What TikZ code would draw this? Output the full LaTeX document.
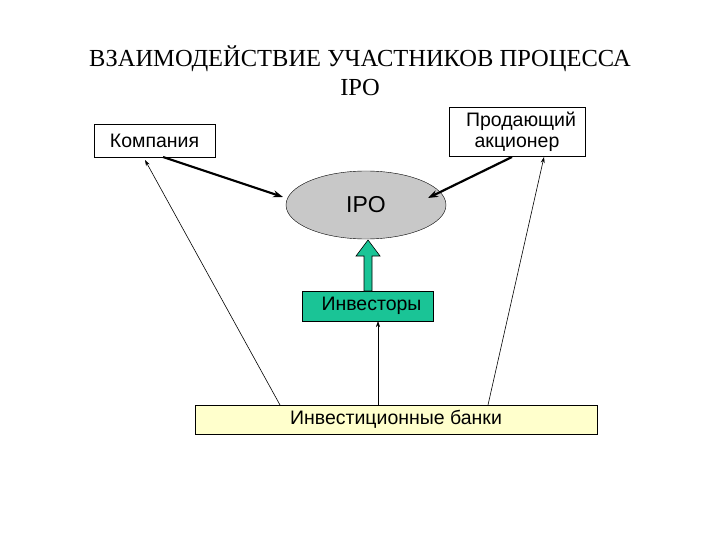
\documentclass[tikz,border=0pt]{standalone}
\usepackage{fontspec}
\setmainfont{Liberation Serif}
\newfontfamily\arialf{Liberation Sans}
\usetikzlibrary{arrows.meta,shapes.geometric}
\definecolor{grn}{RGB}{26,196,150}
\definecolor{ylw}{RGB}{255,255,204}
\definecolor{gry}{RGB}{200,200,200}
\begin{document}
\begin{tikzpicture}[x=1pt,y=-1pt,
  bx/.style={draw,thick,inner sep=0pt,font=\arialf\fontsize{19.5}{21}\selectfont},
  thinar/.style={-{Stealth[length=6pt,width=4pt]},line width=0.6pt},
  thickar/.style={-{Stealth[length=10pt,width=7pt]},line width=2.2pt}]
\useasboundingbox[fill=white] (0,0) rectangle (720,540);
\node[font=\fontsize{24.5}{29}\selectfont,align=center] (title) at (360,71) {ВЗАИМОДЕЙСТВИЕ УЧАСТНИКОВ ПРОЦЕССА\\IPO};
\node[bx,minimum width=121pt,minimum height=33pt] (komp) at (154.5,140.5) {Компания};
\node[bx,minimum width=136pt,minimum height=49pt,align=center,font=\arialf\fontsize{19.5}{21}\selectfont] (prod) at (517,131.5) {\hspace*{8pt}Продающий\\акционер};
\node[draw,fill=gry,ellipse,minimum width=160pt,minimum height=68pt,inner sep=0pt,font=\arialf\fontsize{23}{24}\selectfont] (ipo) at (366,205) {IPO};
\node[bx,fill=grn,minimum width=131pt,minimum height=30pt] (inv) at (367.5,306) {\hspace*{8pt}Инвесторы};
\node[bx,fill=ylw,minimum width=402pt,minimum height=29pt] (bank) at (396,419.5) {Инвестиционные банки};
\coordinate (ka) at (163,157);
\coordinate (kb) at (283,197);
\coordinate (pa) at (512,157);
\coordinate (pb) at (428,198);
\draw[thickar] (ka) -- (kb);
\draw[thickar] (pa) -- (pb);
\coordinate (b1) at (280,405);
\coordinate (k1) at (145,160);
\coordinate (b2) at (488,405);
\coordinate (p2) at (544,157);
\coordinate (b3) at (378,405);
\coordinate (i3) at (378,321);
\draw[thinar] (b1) -- (k1);
\draw[thinar] (b2) -- (p2);
\draw[thinar] (b3) -- (i3);
\draw[draw=black,fill=grn,line width=0.6pt] (364,291) -- (364,256) -- (356,256) -- (368,240) -- (380,256) -- (372,256) -- (372,291) -- cycle;
\end{tikzpicture}
\end{document}
